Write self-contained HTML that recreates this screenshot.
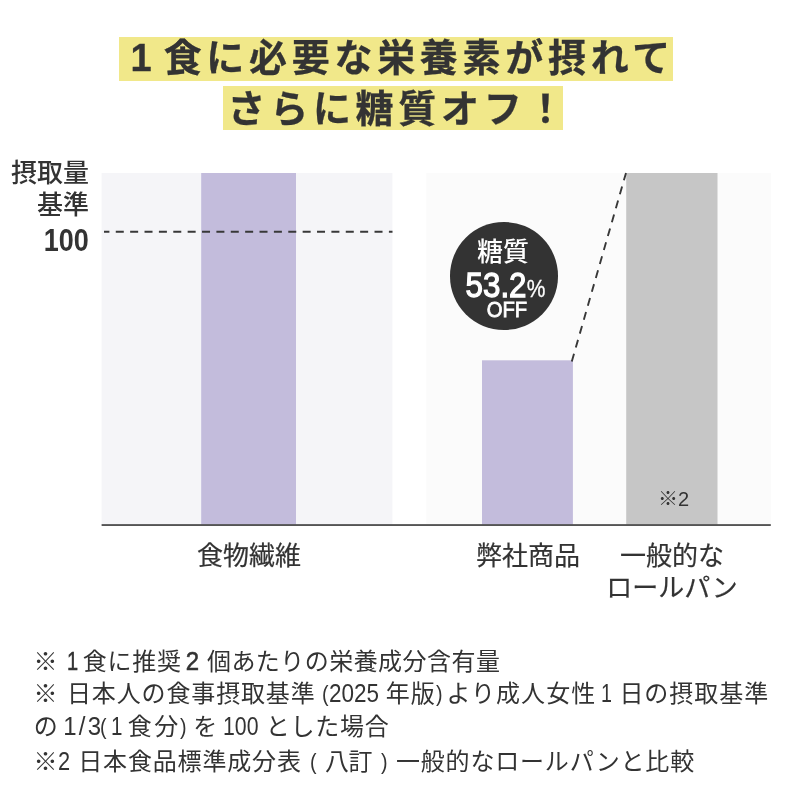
<!DOCTYPE html>
<html lang="ja">
<head>
<meta charset="utf-8">
<title>栄養素グラフ</title>
<style>
html,body{margin:0;padding:0;background:#fff;}
body{width:800px;height:800px;position:relative;overflow:hidden;color:#333;
  font-family:"Liberation Sans","Noto Sans CJK JP",sans-serif;}
.abs{position:absolute;white-space:nowrap;}
.ttl{position:absolute;background:#f1e88a;height:44px;line-height:44px;font-size:38px;font-weight:700;
  letter-spacing:4.7px;white-space:nowrap;color:#333;-webkit-text-stroke:.3px #333;box-sizing:border-box;overflow:hidden;}
.t1{left:119px;top:36.5px;width:554px;padding-left:2.5px;line-height:42px;}
.t1::first-letter{letter-spacing:0;margin-left:9px;margin-right:12px;}
.t2{left:223px;top:86px;width:340px;padding-left:4.5px;line-height:46px;}
.ylab{position:absolute;right:711px;text-align:right;white-space:nowrap;font-size:26px;line-height:32px;color:#333;font-weight:500;}
.lab{position:absolute;font-size:26px;line-height:32px;text-align:center;white-space:nowrap;color:#333;-webkit-text-stroke:.2px #333;}
.circle{position:absolute;left:450px;top:222.2px;width:107.5px;height:107.5px;border-radius:50%;background:#333;}
.w{color:#fff;position:absolute;white-space:nowrap;text-align:center;}
.d1{display:inline-block;vertical-align:top;height:36px;font-size:35px;margin:0 -3.9px;transform:scaleX(.895);-webkit-text-stroke:1.3px #fff;}
.d2{display:inline-block;vertical-align:top;height:36px;font-size:25px;margin:0 -1.3px;transform:scale(.84,.92);transform-origin:50% 70%;-webkit-text-stroke:.3px #fff;position:relative;top:3px;}
.note{position:absolute;left:0;width:800px;height:32px;font-size:24px;line-height:32px;white-space:nowrap;color:#333;font-weight:400;}
.r{display:inline-block;white-space:pre;vertical-align:top;height:32px;}
svg{position:absolute;left:0;top:0;}
</style>
</head>
<body>
<div class="ttl t1">1食に必要な栄養素が摂れて</div>
<div class="ttl t2">さらに糖質オフ！</div>

<svg width="800" height="800" viewBox="0 0 800 800" aria-hidden="true">
  <rect x="101.6" y="173" width="290.8" height="352" fill="#f5f5f8"/>
  <rect x="426.4" y="173" width="344.4" height="352" fill="#fbfbfb"/>
  <rect x="201.2" y="173" width="94.8" height="352" fill="#c3bcdc"/>
  <rect x="482" y="360.3" width="90.9" height="165" fill="#c3bcdc"/>
  <rect x="626.2" y="173" width="91.3" height="352" fill="#c6c6c6"/>
  <line x1="104" y1="231.8" x2="392.5" y2="231.8" stroke="#383838" stroke-width="1.9" stroke-dasharray="8 6.375" stroke-dashoffset="2.6"/>
  <line x1="571.8" y1="361.5" x2="626" y2="173" stroke="#383838" stroke-width="1.9" stroke-dasharray="8 6.5"/>
  <rect x="101.6" y="524.1" width="669.2" height="1.9" fill="#555"/>
</svg>

<div class="ylab" style="top:157px;">摂取量</div>
<div class="ylab" style="top:189px;">基準</div>
<div class="ylab" style="top:225px;font-size:31px;font-weight:700;transform:scaleX(.87);transform-origin:right center;">100</div>

<div class="circle"></div>
<div class="w" style="left:449px;width:108px;top:237px;font-size:26px;line-height:30px;font-weight:500;">糖質</div>
<div class="w" style="left:451.5px;width:108px;top:267px;height:36px;line-height:36px;"><span class="d1">53.2</span><span class="d2">%</span></div>
<div class="w" style="left:452.5px;width:108px;top:299px;font-size:22px;line-height:22px;-webkit-text-stroke:.8px #fff;transform:scaleX(.92);">OFF</div>

<div class="abs" style="left:658px;top:486px;font-size:20px;line-height:26px;">※2</div>

<div class="lab" style="left:149px;width:200px;top:540px;">食物繊維</div>
<div class="lab" style="left:428px;width:200px;top:540px;">弊社商品</div>
<div class="lab" style="left:572px;width:200px;top:540px;">一般的な<br>ロールパン</div>

<div class="note" style="top:646px"><span class="r" style="margin-left:33.62px;width:32.92px;">※ </span><span class="r" style="width:16.21px;-webkit-text-stroke:.5px #333;transform-origin:0 24px;transform:scale(0.833,1.04);">1</span><span class="r" style="width:103.00px;letter-spacing:0.75px;">食に推奨 </span><span class="r" style="width:21.25px;-webkit-text-stroke:.5px #333;transform-origin:0 24px;transform:scale(1.000,1.04);">2 </span><span class="r" style="letter-spacing:0.45px;">個あたりの栄養成分含有量</span></div>
<div class="note" style="top:678px"><span class="r" style="margin-left:33.62px;width:33.38px;">※ </span><span class="r" style="width:255.46px;letter-spacing:0.86px;">日本人の食事摂取基準 </span><span class="r" style="width:6.87px;transform-origin:0 18px;transform:scale(0.820,0.9);">(</span><span class="r" style="width:56.42px;transform-origin:0 24px;transform:scale(0.937,1.04);">2025 </span><span class="r" style="width:49.98px;letter-spacing:1.00px;">年版</span><span class="r" style="width:10.77px;transform-origin:0 18px;transform:scale(0.820,0.9);">)</span><span class="r" style="width:154.76px;letter-spacing:1.05px;">より成人女性 </span><span class="r" style="width:18.24px;transform-origin:0 24px;transform:scale(0.820,1.04);">1 </span><span class="r" style="letter-spacing:0.95px;">日の摂取基準</span></div>
<div class="note" style="top:711px"><span class="r" style="margin-left:33.75px;width:29.50px;">の </span><span class="r" style="width:36.96px;letter-spacing:2.25px;transform-origin:0 24px;transform:scale(1.000,1.04);">1/3</span><span class="r" style="width:11.29px;transform-origin:0 18px;transform:scale(0.820,0.9);">(</span><span class="r" style="width:16.25px;transform-origin:0 24px;transform:scale(0.857,1.04);">1</span><span class="r" style="width:52.73px;letter-spacing:2.50px;">食分</span><span class="r" style="width:12.89px;transform-origin:0 18px;transform:scale(0.820,0.9);">)</span><span class="r" style="width:29.57px;">を </span><span class="r" style="width:42.80px;transform-origin:0 24px;transform:scale(0.886,1.04);">100 </span><span class="r" style="letter-spacing:0.75px;">とした場合</span></div>
<div class="note" style="top:746px"><span class="r" style="margin-left:33.62px;width:23.99px;">※</span><span class="r" style="width:20.64px;transform-origin:0 24px;transform:scale(0.909,1.04);">2 </span><span class="r" style="width:231.46px;letter-spacing:0.84px;">日本食品標準成分表 </span><span class="r" style="width:15.29px;transform-origin:0 18px;transform:scale(0.820,0.9);">( </span><span class="r" style="width:55.73px;letter-spacing:-0.50px;">八訂 </span><span class="r" style="width:15.27px;transform-origin:0 18px;transform:scale(0.820,0.9);">) </span><span class="r" style="letter-spacing:0.82px;">一般的なロールパンと比較</span></div>
</body>
</html>
